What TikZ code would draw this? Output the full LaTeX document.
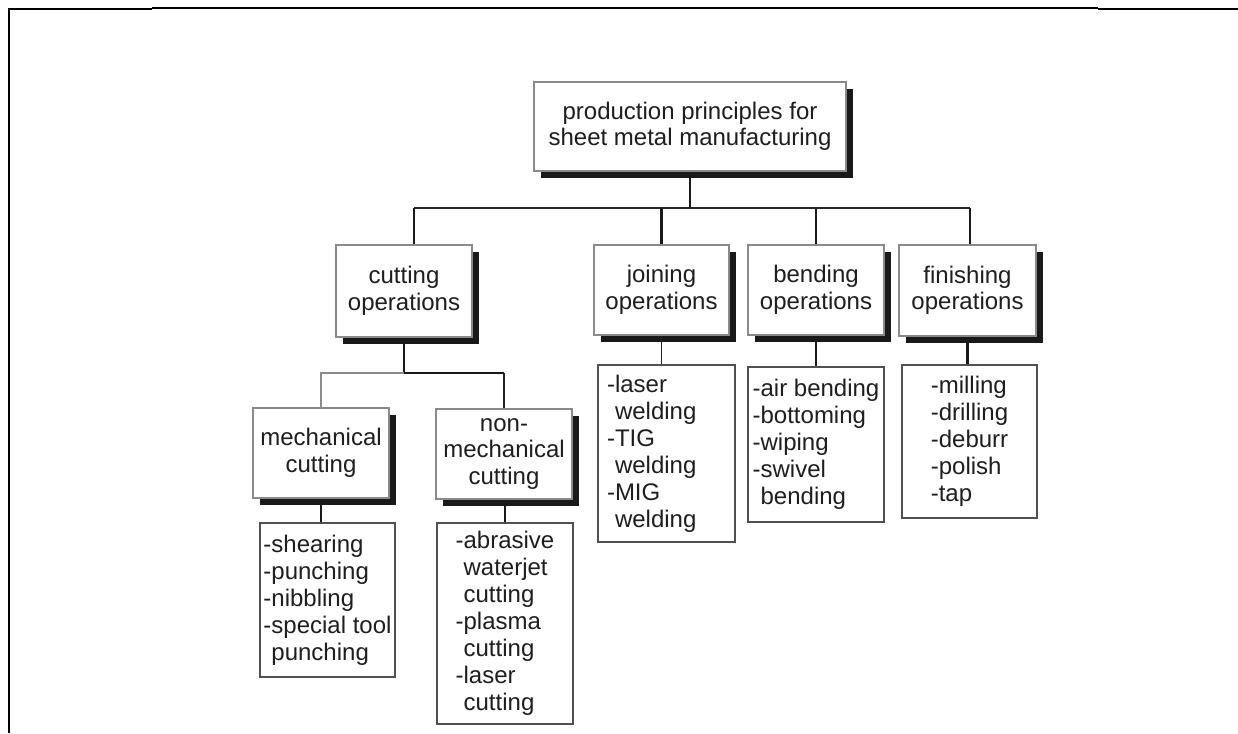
\documentclass[tikz,border=0pt]{standalone}
\usepackage{fontspec}
\setmainfont{Liberation Sans}
\usetikzlibrary{shadows}
\definecolor{ink}{HTML}{1E1E1E}
\definecolor{boxline}{HTML}{8A8A8A}
\definecolor{listline}{HTML}{505050}
\newcommand{\cont}{\phantom{-}}
\begin{document}
\begin{tikzpicture}[x=1pt,y=-1pt,
  opbox/.style={draw=boxline, line width=1.5pt, fill=white, inner sep=0pt,
    align=center, text=ink, font=\fontsize{24}{26.5}\selectfont,
    minimum width=136pt, minimum height=90pt,
    drop shadow={shadow xshift=7pt, shadow yshift=-7pt, fill=black!90, opacity=1}},
  listbox/.style={draw=listline, line width=1.3pt, fill=white, inner sep=0pt,
    align=left, text=ink, font=\fontsize{24}{27}\selectfont},
  heavy/.style={line width=2.6pt, draw=black!90},
  light/.style={line width=1.3pt, draw=black!85},
  faint/.style={line width=1.1pt, draw=black!45},
]
\useasboundingbox (0,0) rectangle (1238,733);

% page frame
\draw[line width=2.4pt] (9,733) -- (9,9) -- (152,9);
\draw[line width=1.5pt] (152,8) -- (1098,8);
\draw[line width=2.6pt] (1098,9) -- (1238,9);

% operation boxes
\node[opbox, minimum width=312pt, minimum height=89pt] (root) at (690,126.5)
  {production principles for\\sheet metal manufacturing};
\node[opbox, minimum height=92pt] (cut) at (404,291) {cutting\\operations};
\node[opbox, minimum width=135pt] (join) at (661.5,290) {joining\\operations};
\node[opbox] (bend) at (816,290) {bending\\operations};
\node[opbox, minimum width=137pt, minimum height=91pt] (fin) at (967.5,290.5) {finishing\\operations};
\node[opbox] (mech) at (321,453) {mechanical\\cutting};
\node[opbox] (nm) at (504,454) {non-\\mechanical\\cutting};

% process lists
\node[listbox, minimum width=135pt, minimum height=154pt] (mlist) at (327.5,600)
  {-shearing\\-punching\\-nibbling\\-special tool\\\cont punching};
\node[listbox, minimum width=136pt, minimum height=201pt] (nlist) at (505,623.5)
  {-abrasive\\\cont waterjet\\\cont cutting\\-plasma\\\cont cutting\\-laser\\\cont cutting};
\node[listbox, text width=119pt, inner xsep=9pt, minimum height=177pt] (jlist) at (666.5,453.5)
  {-laser\\\cont welding\\-TIG\\\cont welding\\-MIG\\\cont welding};
\node[listbox, minimum width=136pt, minimum height=155pt] (blist) at (816,444.5)
  {-air bending\\-bottoming\\-wiping\\-swivel\\\cont bending};
\node[listbox, minimum width=135pt, minimum height=153pt] (flist) at (969.5,441.5)
  {-milling\\-drilling\\-deburr\\-polish\\-tap};

% main distribution bus
\coordinate (bL) at (414,208);
\coordinate (bR) at (970,208);
\draw[light] (bL) -- (bR);
\draw[heavy] (root.south) -- (root.south |- bL);
\draw[heavy] (bL) -- (bL |- cut.north);
\draw[heavy] (join.north |- bL) -- (join.north);
\draw[heavy] (bend.north |- bL) -- (bend.north);
\draw[heavy] (bR) -- (bR |- fin.north);

% cutting split
\coordinate (cj) at (404,373);
\draw[heavy] (cut.south) -- (cj) -- (cj -| nm.north);
\draw[light] (cj -| nm.north) -- (nm.north);
\draw[faint] (cj) -- (cj -| mech.north) -- (mech.north);

% boxes to their lists
\draw[heavy] (mech.south) -- (mech.south |- mlist.north);
\draw[heavy] (nlist.north |- nm.south) -- (nlist.north);
\draw[light] (join.south) -- (join.south |- jlist.north);
\draw[heavy] (bend.south) -- (bend.south |- blist.north);
\draw[heavy] (fin.south) -- (fin.south |- flist.north);
\end{tikzpicture}
\end{document}
